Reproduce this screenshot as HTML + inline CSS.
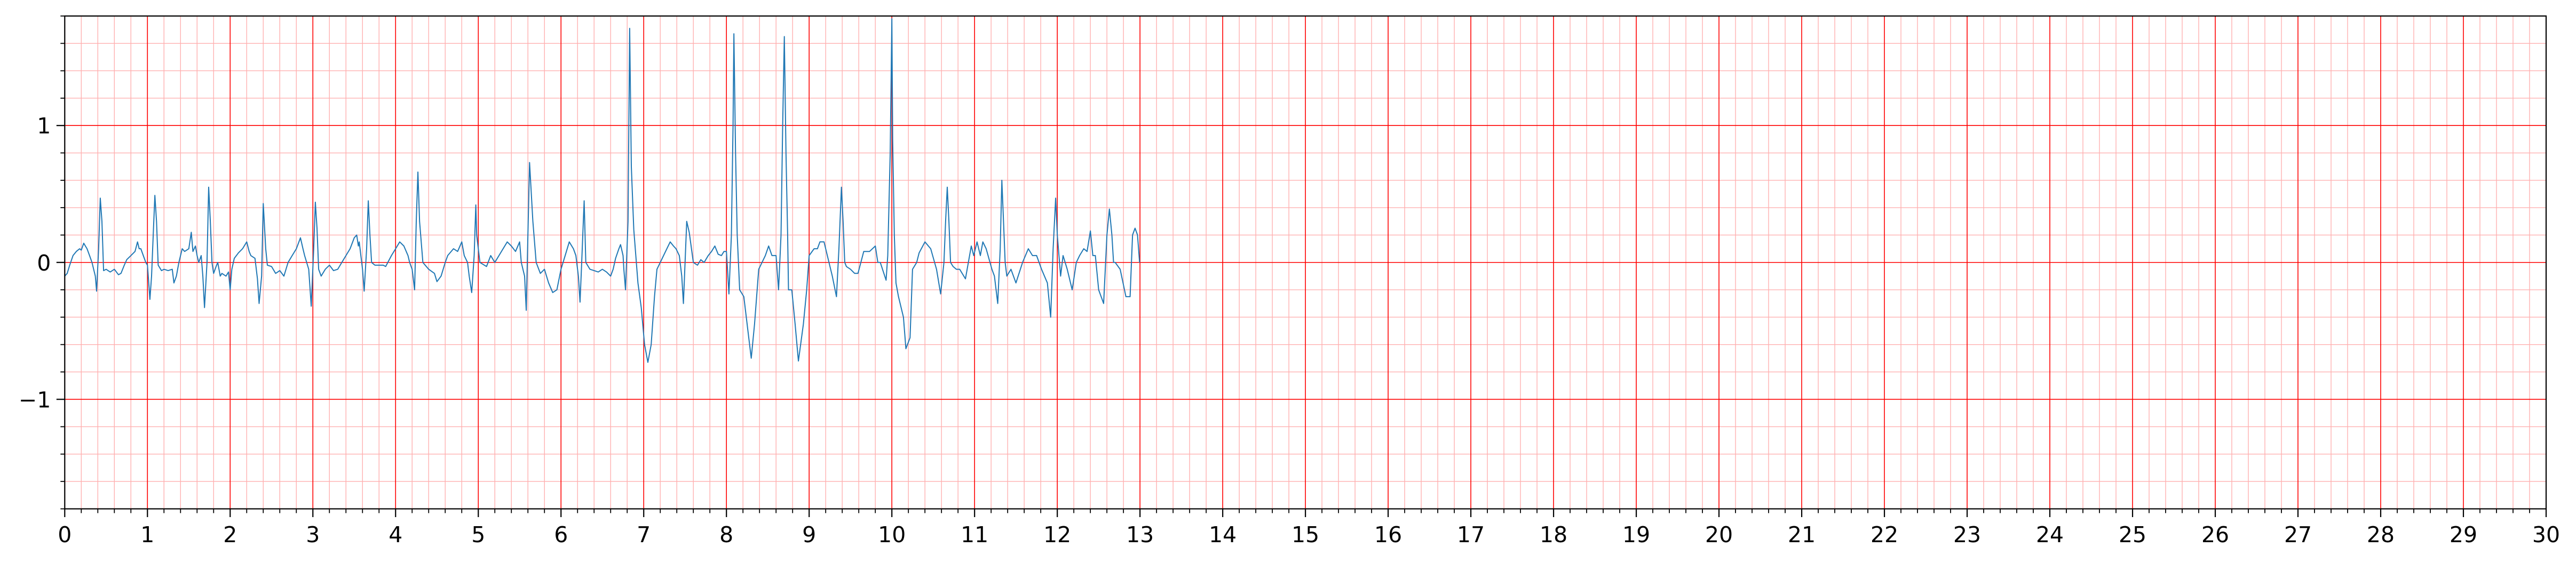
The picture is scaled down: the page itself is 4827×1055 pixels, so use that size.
<!DOCTYPE html>
<html>
<head>
<meta charset="utf-8">
<style>
  html,body{margin:0;padding:0;background:#fff;}
  svg{display:block;}
  text{font-family:"DejaVu Sans","Liberation Sans",sans-serif;font-size:41px;fill:#000;}
</style>
</head>
<body>
<svg id="chart" width="4827" height="1055" viewBox="0 0 4827 1055" xmlns="http://www.w3.org/2000/svg">
  <g id="grid-minor"></g>
  <g id="grid-major"></g>
  <g id="series"></g>
  <g id="axes"></g>
</svg>
<script>
const sigT = [0,0.03,0.06,0.1,0.14,0.18,0.2,0.23,0.25,0.27,0.3,0.33,0.35,0.37,0.385,0.41,0.43,0.45,0.47,0.5,0.55,0.6,0.65,0.68,0.72,0.75,0.8,0.85,0.88,0.9,0.92,0.95,0.98,1.0,1.03,1.05,1.07,1.09,1.11,1.13,1.17,1.2,1.25,1.3,1.32,1.35,1.38,1.4,1.42,1.45,1.5,1.53,1.55,1.58,1.6,1.62,1.65,1.67,1.69,1.72,1.74,1.76,1.78,1.8,1.83,1.85,1.88,1.9,1.95,1.98,2.0,2.02,2.05,2.1,2.15,2.2,2.23,2.25,2.3,2.33,2.35,2.38,2.4,2.43,2.45,2.5,2.55,2.6,2.65,2.7,2.75,2.8,2.85,2.88,2.9,2.95,2.98,3.01,3.03,3.05,3.07,3.1,3.15,3.2,3.25,3.3,3.35,3.4,3.45,3.5,3.53,3.55,3.56,3.6,3.62,3.65,3.67,3.69,3.71,3.75,3.8,3.85,3.88,3.95,4.0,4.05,4.1,4.15,4.17,4.2,4.23,4.25,4.27,4.29,4.33,4.4,4.47,4.5,4.55,4.6,4.63,4.7,4.75,4.8,4.83,4.87,4.89,4.92,4.95,4.97,4.98,5.02,5.1,5.15,5.2,5.25,5.3,5.35,5.4,5.45,5.5,5.52,5.56,5.58,5.6,5.62,5.66,5.7,5.75,5.8,5.85,5.9,5.95,6.0,6.05,6.1,6.15,6.18,6.21,6.23,6.25,6.28,6.3,6.35,6.4,6.45,6.5,6.55,6.6,6.63,6.66,6.7,6.72,6.75,6.76,6.78,6.81,6.83,6.85,6.88,6.93,6.97,7.01,7.05,7.09,7.13,7.16,7.2,7.24,7.28,7.32,7.36,7.39,7.43,7.46,7.48,7.5,7.52,7.55,7.6,7.65,7.69,7.73,7.78,7.82,7.86,7.9,7.94,7.97,8.0,8.03,8.06,8.08,8.09,8.11,8.13,8.16,8.21,8.26,8.3,8.34,8.39,8.43,8.47,8.51,8.55,8.6,8.63,8.66,8.68,8.7,8.72,8.74,8.75,8.79,8.83,8.87,8.93,8.97,9.0,9.06,9.1,9.13,9.18,9.24,9.28,9.33,9.36,9.39,9.41,9.43,9.45,9.5,9.55,9.59,9.66,9.73,9.8,9.83,9.86,9.93,9.95,9.98,10.0,10.01,10.03,10.05,10.08,10.14,10.17,10.22,10.25,10.3,10.33,10.4,10.47,10.54,10.59,10.63,10.65,10.67,10.69,10.71,10.74,10.78,10.82,10.89,10.96,10.99,11.03,11.07,11.1,11.14,11.21,11.24,11.28,11.31,11.33,11.35,11.37,11.39,11.44,11.5,11.58,11.65,11.7,11.75,11.81,11.88,11.92,11.95,11.98,12.0,12.02,12.04,12.07,12.12,12.18,12.23,12.27,12.32,12.36,12.4,12.43,12.46,12.5,12.56,12.6,12.63,12.66,12.68,12.7,12.76,12.83,12.88,12.91,12.94,12.97,12.995,13.0,30];
const sigV = [-0.1,-0.08,-0.02,0.05,0.08,0.1,0.09,0.14,0.12,0.1,0.05,0.0,-0.05,-0.1,-0.21,0.1,0.47,0.3,-0.06,-0.05,-0.07,-0.05,-0.09,-0.08,-0.02,0.02,0.05,0.08,0.15,0.1,0.1,0.05,0.0,-0.02,-0.27,-0.1,0.2,0.49,0.3,-0.02,-0.06,-0.05,-0.06,-0.05,-0.15,-0.1,0.0,0.05,0.1,0.08,0.1,0.22,0.08,0.12,0.05,0.0,0.05,-0.1,-0.33,0.0,0.55,0.3,0.0,-0.08,-0.03,0.0,-0.1,-0.08,-0.1,-0.07,-0.2,-0.05,0.03,0.07,0.1,0.15,0.08,0.05,0.03,-0.12,-0.3,-0.1,0.43,0.1,-0.02,-0.03,-0.08,-0.06,-0.1,0.0,0.05,0.1,0.18,0.1,0.05,-0.05,-0.32,0.1,0.44,0.25,-0.05,-0.1,-0.05,-0.02,-0.06,-0.05,0.0,0.05,0.1,0.18,0.2,0.12,0.15,-0.05,-0.21,0.1,0.45,0.2,0.0,-0.02,-0.02,-0.02,-0.03,0.05,0.1,0.15,0.12,0.05,0.0,-0.05,-0.2,0.3,0.66,0.3,0.0,-0.05,-0.08,-0.14,-0.1,0.0,0.05,0.1,0.08,0.15,0.05,0.0,-0.1,-0.22,0.05,0.42,0.2,0.0,-0.03,0.05,0.0,0.05,0.1,0.15,0.12,0.08,0.15,0.0,-0.1,-0.35,0.2,0.73,0.3,0.0,-0.08,-0.05,-0.15,-0.22,-0.2,-0.05,0.05,0.15,0.1,0.05,-0.1,-0.29,0.0,0.45,0.0,-0.05,-0.06,-0.07,-0.05,-0.07,-0.1,-0.05,0.03,0.1,0.13,0.05,-0.05,-0.2,0.3,1.71,0.7,0.24,-0.15,-0.33,-0.6,-0.73,-0.6,-0.25,-0.05,0.0,0.05,0.1,0.15,0.12,0.1,0.05,-0.1,-0.3,0.0,0.3,0.22,0.0,-0.02,0.02,0.0,0.05,0.08,0.12,0.06,0.05,0.08,0.08,-0.23,0.2,1.0,1.67,0.8,0.2,-0.2,-0.25,-0.5,-0.7,-0.45,-0.05,0.0,0.05,0.12,0.05,0.05,-0.2,0.2,1.0,1.65,0.8,0.2,-0.2,-0.2,-0.45,-0.72,-0.45,-0.2,0.05,0.1,0.1,0.15,0.15,0.0,-0.1,-0.25,0.1,0.55,0.3,0.0,-0.03,-0.05,-0.08,-0.08,0.08,0.08,0.12,0.0,0.0,-0.13,0.05,0.8,1.78,0.9,0.2,-0.15,-0.25,-0.4,-0.63,-0.55,-0.05,0.0,0.07,0.15,0.1,-0.05,-0.23,0.0,0.3,0.55,0.3,0.0,-0.03,-0.05,-0.05,-0.12,0.12,0.05,0.15,0.05,0.15,0.1,-0.05,-0.1,-0.3,0.1,0.6,0.3,0.0,-0.1,-0.05,-0.15,0.0,0.1,0.05,0.05,-0.05,-0.15,-0.4,0.1,0.47,0.2,0.05,-0.1,0.05,-0.05,-0.2,0.0,0.05,0.1,0.08,0.23,0.05,0.05,-0.2,-0.3,0.2,0.39,0.2,0.0,0.0,-0.05,-0.25,-0.25,0.2,0.25,0.2,0.0,0.0];
const xTickLabels = ["0","1","2","3","4","5","6","7","8","9","10","11","12","13","14","15","16","17","18","19","20","21","22","23","24","25","26","27","28","29","30"];
const yTickValues = [-1,0,1];
const yTickLabels = ["\u22121","0","1"];

const L=121.3, R=4771, T=30, B=953.5;
const X0=0, X1=30, Y0=-1.8, Y1=1.8;
const sx = v => L + (v - X0) / (X1 - X0) * (R - L);
const sy = v => B - (v - Y0) / (Y1 - Y0) * (B - T);
const NS='http://www.w3.org/2000/svg';
function mk(tag, attrs, parent){
  const e=document.createElementNS(NS,tag);
  for(const k in attrs) e.setAttribute(k, attrs[k]);
  parent.appendChild(e); return e;
}
const gMin=document.getElementById('grid-minor');
const gMaj=document.getElementById('grid-major');
const gS=document.getElementById('series');
const gA=document.getElementById('axes');

// minor grid
for(let i=0;i<=150;i++){
  const x=sx(i*0.2);
  if(i%5===0) continue;
  const l=mk('line',{x1:x,x2:x,y1:T,y2:B,stroke:'#ffb0b0','stroke-width':1.4},gMin);
  
  
}
for(let i=-9;i<=9;i++){
  if(i%5===0) continue;
  const y=sy(i*0.2);
  const l=mk('line',{x1:L,x2:R,y1:y,y2:y,stroke:'#ffb0b0','stroke-width':1.4},gMin);
  
  
}
// major grid
xTickLabels.forEach((lab,i)=>{
  const x=sx(i);
  const l=mk('line',{x1:x,x2:x,y1:T,y2:B,stroke:'#ff0000','stroke-width':1.6},gMaj);
  
  
});
yTickValues.forEach(v=>{
  const y=sy(v);
  const l=mk('line',{x1:L,x2:R,y1:y,y2:y,stroke:'#ff0000','stroke-width':1.6},gMaj);
  
  
});
// series
let d='';
for(let i=0;i<sigT.length;i++){
  d += (i?'L':'M') + sx(sigT[i]).toFixed(1) + ' ' + sy(sigV[i]).toFixed(1);
}
const path=mk('path',{d:d,fill:'none',stroke:'#1f77b4','stroke-width':2,'stroke-linejoin':'round'},gS);



// axes frame
const fr=mk('rect',{x:L,y:T,width:R-L,height:B-T,fill:'none',stroke:'#000','stroke-width':2.2},gA);


// x ticks
for(let i=0;i<=150;i++){
  const x=sx(i*0.2);
  const major=i%5===0;
  const t=mk('line',{x1:x,x2:x,y1:B,y2:B+(major?15.5:8),stroke:'#000','stroke-width':major?2.2:1.8},gA);
  
  
}
xTickLabels.forEach((lab,i)=>{
  const tx=mk('text',{x:sx(i),y:1016,'text-anchor':'middle'},gA);
  tx.textContent=lab;
  
  
});
// y ticks
for(let i=-9;i<=9;i++){
  const y=sy(i*0.2);
  const major=i%5===0;
  const t=mk('line',{x1:L-(major?15.5:8),x2:L,y1:y,y2:y,stroke:'#000','stroke-width':major?2.2:1.8},gA);
  
  
}
yTickValues.forEach((v,i)=>{
  const tx=mk('text',{x:L-26,y:sy(v)+15,'text-anchor':'end'},gA);
  tx.textContent=yTickLabels[i];
  
  
});
</script>
</body>
</html>
